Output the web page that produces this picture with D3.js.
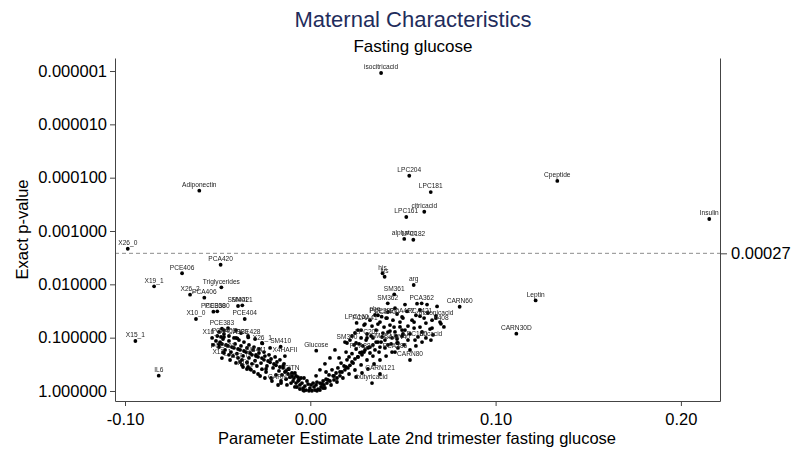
<!DOCTYPE html>
<html>
<head>
<meta charset="utf-8">
<script src="https://cdn.jsdelivr.net/npm/d3@7"></script>
<style>
  body { margin: 0; background: #fff; }
  svg { font-family: "Liberation Sans", Arial, sans-serif; }
</style>
</head>
<body>
<svg id="chart" width="800" height="456"></svg>
<script>
// tick values
const xTicks = [-0.10, 0.00, 0.10, 0.20];
const yTicks = [0.000001, 0.00001, 0.0001, 0.001, 0.01, 0.1, 1];

// reference line (drawn where the picture has it, labelled as in the picture)
const refLineP = 0.00262;
const refLineLabel = "0.00027";

// labelled metabolites: name, estimate, p-value
const labelNames = ["isocitricacid","LPC204","LPC181","citricacid","LPC161","alphatoc","LPC182",
  "Cpeptide","Insulin","Leptin","CARN60","CARN30D","Adiponectin","X26_0","PCA420","PCE406",
  "X19_1","Triglycerides","X26_2","PCA406","SM401","SM421","PCE360","PCE380","PCE404","X10_0",
  "PCE383","X15_1","IL6","X26_1","SM410","Glucose","his","lys","arg","SM361","SM362","PCA362",
  "X16_0","PCA408","PCA380","PCE428","PCE402","SM441","X4HAFII","X12_1","X17_0","X18_2",
  "CARN20","CITN","SM340","LPC202","SM382","CARN40","LPC180","uricacid","PCA384","PCA386",
  "CARN80","CARN121","butyricacid","phe","PCE382","LPC160","PCAA41","PCA421","PCE400",
  "PCA402","malonicacid","X408"];
const labelEst = [0.0382,0.0534,0.0650,0.0615,0.0518,0.0507,0.0556,
  0.1333,0.2153,0.1216,0.0806,0.1112,-0.0599,-0.0985,-0.0484,-0.0692,
  -0.0843,-0.0480,-0.0649,-0.0572,-0.0390,-0.0367,-0.0523,-0.0502,-0.0354,-0.0617,
  -0.0477,-0.0944,-0.0818,-0.0259,-0.0160,0.0032,0.0390,0.0401,0.0558,0.0453,0.0418,0.0601,
  -0.0530,-0.0466,-0.0401,-0.0335,-0.0471,-0.0293,-0.0137,-0.0477,-0.0379,-0.0342,
  -0.0158,-0.0099,0.0198,0.0306,0.0382,0.0468,0.0565,0.0651,0.0279,0.0457,
  0.0538,0.0376,0.0333,0.0349,0.0385,0.0250,0.0295,0.0592,0.0414,
  0.0495,0.0678,0.0705];
const labelP = [1.09e-6,9.2e-5,1.86e-4,4.35e-4,5.46e-4,1.41e-3,1.46e-3,
  1.15e-4,5.96e-4,0.0200,0.0263,0.0843,1.75e-4,2.15e-3,4.29e-3,6.2e-3,
  0.0109,0.0114,0.0156,0.0178,0.0255,0.0247,0.0326,0.0321,0.0447,0.0447,
  0.0679,0.1155,0.516,0.128,0.148,0.175,0.0062,0.0072,0.0103,0.0154,0.0227,0.0227,
  0.101,0.097,0.101,0.099,0.186,0.221,0.221,0.241,0.286,0.387,
  0.71,0.48,0.126,0.101,0.121,0.126,0.111,0.111,0.186,0.186,
  0.262,0.48,0.71,0.0376,0.0404,0.053,0.0555,0.0395,0.0429,
  0.0409,0.043,0.055];

// the unlabelled cloud: [estimate, p-value]
const cloudPoints = [
  [-0.0056,0.77],[-0.0039,0.88],[-0.0023,0.96],[-0.0007,0.99],[0.0009,0.99],[0.0025,0.96],
  [0.0042,0.92],[0.0058,0.84],[-0.0029,0.81],[-0.0002,0.88],[0.0020,0.84],[-0.0077,0.71],
  [-0.0093,0.65],[-0.0061,0.62],[-0.0045,0.71],[-0.0012,0.74],[0.0031,0.77],[0.0052,0.71],
  [0.0074,0.77],[0.0090,0.71],[0.0106,0.65],[0.0085,0.60],[0.0069,0.65],[0.0036,0.68],
  [0.0015,0.71],[0.0004,0.77],[-0.0018,0.65],[-0.0034,0.57],[-0.0066,0.55],[-0.0088,0.57],
  [-0.0110,0.55],[-0.0120,0.48],[-0.0137,0.44],[-0.0153,0.50],[-0.0131,0.60],[-0.0104,0.71],
  [0.0128,0.62],[0.0144,0.57],[0.0160,0.52],[0.0123,0.52],[0.0101,0.50],[0.0139,0.46],
  [0.0171,0.44],[0.0187,0.40],[0.0203,0.37],[0.0182,0.34],[0.0214,0.33],[0.0231,0.30],
  [0.0198,0.26],[0.0241,0.25],[0.0257,0.23],[0.0225,0.20],[0.0268,0.19],[0.0279,0.21],
  [0.0295,0.17],[0.0311,0.156],[0.0322,0.194],[0.0284,0.143],[0.0338,0.137],[0.0349,0.17],
  [0.0365,0.121],[0.0376,0.15],[0.0301,0.111],[0.0263,0.131],[0.0247,0.163],[0.0209,0.23],
  [0.0166,0.30],[0.0149,0.37],[0.0117,0.40],[0.0085,0.44],[0.0155,0.24],[0.0193,0.186],
  [0.0236,0.137],[0.0274,0.101],[0.0328,0.093],[0.0403,0.111],[0.0419,0.137],[0.0441,0.101],
  [0.0392,0.082],[0.0457,0.078],[0.0473,0.126],[0.0495,0.093],[0.0511,0.072],[0.0538,0.085],
  [0.0560,0.066],[0.0581,0.097],[0.0603,0.078],[0.0624,0.101],[0.0646,0.069],[0.0662,0.089],
  [0.0527,0.111],[0.0484,0.063],[0.0430,0.058],[0.0355,0.072],[0.0376,0.051],[0.0409,0.043],
  [0.0446,0.047],[0.0468,0.036],[0.0500,0.043],[0.0522,0.032],[0.0549,0.047],[0.0570,0.038],
  [0.0592,0.030],[0.0614,0.043],[0.0635,0.0345],[0.0657,0.047],[0.0678,0.039],[0.0700,0.051],
  [0.0721,0.063],[0.0684,0.026],[0.0630,0.024],[0.0576,0.023],[0.0511,0.024],[0.0457,0.028],
  [0.0419,0.033],[0.0365,0.038],[0.0322,0.047],[0.0290,0.058],[0.0257,0.072],[0.0225,0.093],
  [0.0187,0.121],[0.0133,0.17],[0.0106,0.24],[0.0079,0.31],[0.0052,0.40],[0.0031,0.52],
  [-0.0147,0.37],[-0.0169,0.42],[-0.0185,0.33],[-0.0201,0.37],[-0.0217,0.29],[-0.0234,0.34],
  [-0.0250,0.26],[-0.0266,0.30],[-0.0282,0.23],[-0.0298,0.27],[-0.0315,0.21],[-0.0331,0.24],
  [-0.0347,0.186],[-0.0363,0.22],[-0.0379,0.17],[-0.0396,0.20],[-0.0412,0.156],[-0.0428,0.186],
  [-0.0444,0.143],[-0.0460,0.17],[-0.0477,0.131],[-0.0493,0.15],[-0.0509,0.115],[-0.0525,0.137],
  [-0.0185,0.50],[-0.0212,0.57],[-0.0239,0.44],[-0.0261,0.39],[-0.0288,0.34],[-0.0315,0.31],
  [-0.0342,0.29],[-0.0369,0.26],[-0.0390,0.24],[-0.0417,0.22],[-0.0439,0.21],[-0.0466,0.194],
  [-0.0164,0.26],[-0.0190,0.23],[-0.0223,0.21],[-0.0250,0.186],[-0.0277,0.163],[-0.0304,0.15],
  [-0.0331,0.137],[-0.0358,0.121],[-0.0385,0.111],[-0.0412,0.101],[-0.0439,0.093],[-0.0466,0.085],
  [-0.0493,0.078],[-0.0217,0.156],[-0.0261,0.126],[-0.0298,0.106],[-0.0336,0.093],[-0.0374,0.082],
  [-0.0401,0.072],[-0.0444,0.066],[-0.0482,0.097],[-0.0320,0.40],[-0.0282,0.48],[-0.0245,0.57],
  [-0.0363,0.355],[-0.0126,0.77],[-0.0158,0.65],[-0.0083,0.84],[-0.0142,0.31],[-0.0120,0.39],
  [-0.0099,0.46],[-0.0077,0.52],[-0.0394,0.103],[-0.0466,0.072],[-0.0502,0.093],[-0.0493,0.133],
  [-0.0325,0.387],
  // left arm, filling
  [-0.0487,0.121],[-0.0455,0.137],[-0.0423,0.150],[-0.0390,0.163],[-0.0358,0.178],[-0.0325,0.194],
  [-0.0293,0.211],[-0.0261,0.241],[-0.0228,0.274],[-0.0196,0.312],[-0.0164,0.355],[-0.0131,0.422],
  [-0.0099,0.523],[-0.0066,0.649],
  [-0.0471,0.106],[-0.0439,0.115],[-0.0406,0.131],[-0.0374,0.143],[-0.0342,0.156],[-0.0309,0.170],
  [-0.0277,0.194],[-0.0245,0.221],[-0.0212,0.251],[-0.0180,0.286],[-0.0147,0.340],[-0.0115,0.387],
  [-0.0083,0.460],[-0.0050,0.570],
  [-0.0433,0.262],[-0.0401,0.298],[-0.0369,0.325],[-0.0336,0.355],[-0.0304,0.440],[-0.0271,0.523],
  [-0.0239,0.387],[-0.0207,0.649],[-0.0174,0.772],
  // right arm, filling
  [0.0063,0.739],[0.0095,0.622],[0.0128,0.523],[0.0160,0.440],[0.0193,0.355],[0.0225,0.286],
  [0.0257,0.230],[0.0290,0.186],[0.0322,0.150],[0.0355,0.121],[0.0387,0.0972],[0.0419,0.0784],
  [0.0452,0.0632],[0.0484,0.0509],
  [0.0079,0.879],[0.0112,0.772],[0.0144,0.678],[0.0176,0.570],[0.0209,0.480],[0.0241,0.404],
  [0.0274,0.325],[0.0306,0.262],[0.0338,0.221],[0.0371,0.186],[0.0403,0.156],[0.0436,0.131],
  [0.0468,0.106],[0.0500,0.0854],
  [0.0247,0.546],[0.0279,0.460],[0.0311,0.387],[0.0344,0.312],[0.0376,0.262],[0.0409,0.221],
  [0.0441,0.186],[0.0473,0.156],[0.0506,0.137],[0.0538,0.170],[0.0570,0.143],[0.0603,0.121],
  [0.0333,0.0605],[0.0365,0.0555],[0.0398,0.0632],[0.0430,0.0751],[0.0463,0.0931],[0.0495,0.0719],
  [0.0527,0.0605],[0.0560,0.0509],[0.0592,0.0632],[0.0624,0.0532],[0.0657,0.0660],[0.0241,0.0818],
  [0.0274,0.0719],[0.0306,0.0854],[0.0338,0.101],[0.0214,0.111],[0.0247,0.126],
  // bottom tip, filling
  [-0.0056,0.917],[-0.0034,0.99],[-0.0039,0.958],[0.0036,0.99],[0.0052,0.958],[-0.0072,0.841],
  [0.0069,0.879]
];

const svg = d3.select("#chart");
const plotLeft = 115, plotRight = 720, plotTop = 58, plotBottom = 401;

const x = d3.scaleLinear().domain([-0.1054, 0.2211]).range([plotLeft, plotRight]);
const y = d3.scaleLog().domain([5.7e-7, 1.54]).range([plotTop, plotBottom]);

const fmtX = d3.formatLocale({decimal: ".", thousands: ",", grouping: [3], currency: ["", ""], minus: "-"}).format(".2f");

// grayscale text smoothing for the tiny marker labels
svg.append("defs").append("filter").attr("id", "gray")
  .append("feOffset").attr("dx", 0).attr("dy", 0);

// titles
svg.append("text").attr("x", 413).attr("y", 26.5).attr("text-anchor", "middle")
  .attr("font-size", 22).attr("fill", "#1f2d5c").text("Maternal Characteristics");
svg.append("text").attr("x", 413).attr("y", 52).attr("text-anchor", "middle")
  .attr("font-size", 17).attr("fill", "#000").text("Fasting glucose");

// reference line
svg.append("line")
  .attr("x1", plotLeft).attr("x2", plotRight)
  .attr("y1", y(refLineP)).attr("y2", y(refLineP))
  .attr("stroke", "#8c8c8c").attr("stroke-width", 1).attr("stroke-dasharray", "4,3");

// axes
const gy = svg.append("g").attr("transform", "translate(" + plotLeft + ",0)")
  .call(d3.axisLeft(y).tickValues(yTicks).tickFormat(d3.format(".6f")).tickSize(5).tickSizeOuter(0).tickPadding(3));
const gx = svg.append("g").attr("transform", "translate(0," + plotBottom + ")")
  .call(d3.axisBottom(x).tickValues(xTicks).tickFormat(fmtX).tickSize(5).tickSizeOuter(0).tickPadding(7));
const gr = svg.append("g").attr("transform", "translate(" + plotRight + ",0)")
  .call(d3.axisRight(y).tickValues([refLineP]).tickFormat(() => refLineLabel).tickSize(7).tickSizeOuter(0).tickPadding(4));

[gy, gx, gr].forEach(g => {
  g.selectAll("path, line").attr("stroke", "#444");
  g.selectAll("text").attr("font-size", 16.5).attr("fill", "#000")
    .attr("font-family", "'Liberation Sans', Arial, sans-serif");
});

// axis titles
svg.append("text").attr("x", 417).attr("y", 443.5).attr("text-anchor", "middle")
  .attr("font-size", 16.5).text("Parameter Estimate Late 2nd trimester fasting glucose");
svg.append("text").attr("transform", "translate(28," + ((plotTop + plotBottom) / 2) + ") rotate(-90)")
  .attr("text-anchor", "middle").attr("font-size", 16.5).text("Exact p-value");

// cloud points
svg.append("g").selectAll("circle")
  .data(cloudPoints)
  .enter().append("circle")
  .attr("cx", d => x(d[0]))
  .attr("cy", d => y(d[1]))
  .attr("r", 1.9)
  .attr("fill", "#000");

// labelled points
const labelled = labelNames.map((n, i) => ({name: n, est: labelEst[i], p: labelP[i]}));
const gl = svg.append("g");
gl.selectAll("circle")
  .data(labelled)
  .enter().append("circle")
  .attr("cx", d => x(d.est))
  .attr("cy", d => y(d.p))
  .attr("r", 1.9)
  .attr("fill", "#000");
gl.append("g").attr("filter", "url(#gray)").selectAll("text")
  .data(labelled)
  .enter().append("text")
  .attr("x", d => x(d.est))
  .attr("y", d => y(d.p) - 3.6)
  .attr("text-anchor", "middle")
  .attr("font-size", 6.6)
  .attr("fill", "#222")
  .text(d => d.name);
</script>
</body>
</html>
